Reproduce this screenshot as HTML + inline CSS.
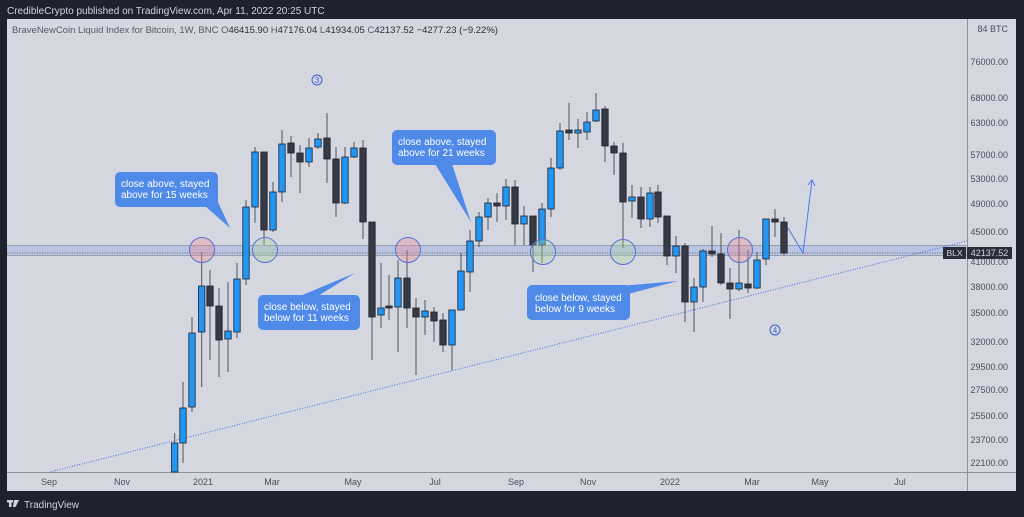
<!DOCTYPE html>
<html><head><meta charset="utf-8"><style>
html,body{margin:0;padding:0;background:#1e222d;width:1024px;height:517px;overflow:hidden}
svg{display:block}
text{font-family:"Liberation Sans","DejaVu Sans",sans-serif}
</style></head><body>
<svg id="s" width="1024" height="517" xmlns="http://www.w3.org/2000/svg">
<rect width="1024" height="517" fill="#1e222d"/>
<text x="7" y="14" font-size="10" fill="#d1d4dc">CredibleCrypto published on TradingView.com, Apr 11, 2022 20:25 UTC</text>
<rect x="7" y="19" width="1009" height="472" fill="#d4d7df"/>
<line x1="967.5" y1="19" x2="967.5" y2="491" stroke="#8f929b" stroke-width="1"/>
<line x1="7" y1="472.5" x2="1016" y2="472.5" stroke="#8f929b" stroke-width="1"/>
<text x="12" y="33" font-size="9.5" fill="#555a66">BraveNewCoin Liquid Index for Bitcoin, 1W, BNC <tspan fill="#555a66">O</tspan><tspan fill="#2a2e39">46415.90</tspan> <tspan>H</tspan><tspan fill="#2a2e39">47176.04</tspan> <tspan>L</tspan><tspan fill="#2a2e39">41934.05</tspan> <tspan>C</tspan><tspan fill="#2a2e39">42137.52</tspan> <tspan fill="#2a2e39">−4277.23 (−9.22%)</tspan></text>
<g id="band">
<rect x="7" y="245" width="960" height="11" fill="#b9c3e2"/>
<line x1="7" y1="245.5" x2="967" y2="245.5" stroke="#9a9ea8"/>
<line x1="7" y1="255.5" x2="967" y2="255.5" stroke="#9a9ea8"/>
<line x1="7" y1="253" x2="967" y2="253" stroke="#50535e" stroke-dasharray="1,1.5" stroke-width="0.8"/>
</g>
<line x1="50" y1="472" x2="967" y2="241" stroke="#4a70e0" stroke-dasharray="1,1.5" stroke-width="1"/>
<g id="c"></g>
<g fill-opacity="0.35" stroke="#5a6fd8" stroke-width="1">
<circle cx="202" cy="250" r="12.5" fill="#f08a96"/>
<circle cx="265" cy="250" r="12.5" fill="#a8d8a0"/>
<circle cx="408" cy="250" r="12.5" fill="#f08a96"/>
<circle cx="543" cy="252" r="12.5" fill="#a8d8a0"/>
<circle cx="623" cy="252" r="12.5" fill="#a8d8a0"/>
<circle cx="740" cy="250" r="12.5" fill="#f08a96"/>
</g>
<polyline points="788,228 803,253 812,180" fill="none" stroke="#4a78e8" stroke-width="1"/>
<polyline points="808,185 812,180 815,186" fill="none" stroke="#4a78e8" stroke-width="1"/>
<g fill="#4f8ae8">
<rect x="115" y="172" width="103" height="35" rx="5"/><polygon points="205,206 217,200 230,228"/>
<rect x="258" y="295" width="102" height="35" rx="5"/><polygon points="300,296 318,296 355,273"/>
<rect x="392" y="130" width="104" height="35" rx="5"/><polygon points="435,164 452,164 471,222"/>
<rect x="527" y="285" width="103" height="35" rx="5"/><polygon points="620,286 620,296 678,281"/>
</g>
<g fill="#fff" font-size="10">
<text x="121" y="187">close above, stayed</text><text x="121" y="198">above for 15 weeks</text>
<text x="264" y="310">close below, stayed</text><text x="264" y="321">below for 11 weeks</text>
<text x="398" y="145">close above, stayed</text><text x="398" y="156">above for 21 weeks</text>
<text x="535" y="301">close below, stayed</text><text x="535" y="312">below for 9 weeks</text>
</g>
<g fill="none" stroke="#3a5fcc"><circle cx="317" cy="80" r="5"/><circle cx="775" cy="330" r="5"/></g>
<g font-size="8" fill="#3a5fcc" text-anchor="middle"><text x="317" y="83">3</text><text x="775" y="333">4</text></g>
<g font-size="9" fill="#4a4e5a" text-anchor="end" id="pa">
<text x="1008" y="32">84 BTC</text>
</g>
<rect x="943" y="247" width="23" height="12" fill="#2a2e39"/>
<text x="954.5" y="256" font-size="8.5" fill="#d1d4dc" text-anchor="middle">BLX</text>
<rect x="967" y="247" width="45" height="12" fill="#2a2e39"/>
<text x="989.5" y="256" font-size="9" fill="#d1d4dc" text-anchor="middle">42137.52</text>
<g font-size="9" fill="#4a4e5a" text-anchor="middle">
<text x="49" y="485">Sep</text><text x="122" y="485">Nov</text><text x="203" y="485">2021</text><text x="272" y="485">Mar</text>
<text x="353" y="485">May</text><text x="435" y="485">Jul</text><text x="516" y="485">Sep</text><text x="588" y="485">Nov</text>
<text x="670" y="485">2022</text><text x="752" y="485">Mar</text><text x="820" y="485">May</text><text x="900" y="485">Jul</text>
</g>
<g fill="#d1d4dc"><rect x="7" y="500" width="6" height="2.5"/><rect x="9" y="500" width="2.5" height="7"/><polygon points="14,500 19,500 15.5,507 13,507"/></g>
<text x="24" y="508" font-size="10" fill="#d1d4dc">TradingView</text>
</svg>
<script>
var ticks=[[76000,62],[68000,98],[63000,123],[57000,155],[53000,179],[49000,204],[45000,232],[41000,262],[38000,287],[35000,313],[32000,342],[29500,367],[27500,390],[25500,416],[23700,440],[22100,463]];
var pa=document.getElementById('pa');
ticks.forEach(function(t){var e=document.createElementNS('http://www.w3.org/2000/svg','text');e.setAttribute('x','1008');e.setAttribute('y',t[1]+3);e.textContent=t[0].toFixed(2);pa.appendChild(e);});
var C=[[174.7,443,472,433,472,1],[183,408,443,382,463,1],[192,333,407,317,412,1],[201.7,286,332,252,387,1],[210,286,306,270,360,0],[219,306,340,288,377,0],[228,331,339,282,372,1],[237,279,332,263,338,1],[246,207,279,200,285,1],[255,152,207,147,223,1],[264,152,230,152,245,0],[273,192,230,182,232,1],[282,144,192,130,202,1],[291,143,153,136,177,0],[300,153,162,145,193,0],[309,148,162,138,167,1],[318,139,147,133,149,1],[327,138,159,113,183,0],[336,159,203,147,217,0],[345,157,203,147,204,1],[354,148,157,142,158,1],[363,148,222,140,239,0],[372,222,317,222,360,0],[381,308,315,263,328,1],[389,306,308,275,320,0],[398,278,307,260,352,1],[407,278,308,250,328,0],[416,308,317,298,375,0],[425,311,317,300,335,1],[434,312,321,307,342,0],[443,320,345,313,352,0],[452,310,345,310,370,1],[461,271,310,253,310,1],[470,241,272,230,292,1],[479,217,241,212,247,1],[488,203,217,198,230,1],[497,203,206,193,222,0],[506,187,206,179,220,1],[515,187,224,180,245,0],[524,216,224,206,245,1],[533,216,245,216,272,0],[542,209,245,203,263,1],[551,168,209,158,217,1],[560,131,168,123,170,1],[569,130,133,103,140,0],[578,130,133,119,148,1],[587,122,132,112,140,1],[596,110,121,93,122,1],[605,109,146,106,162,0],[614,146,153,142,175,0],[623,153,202,143,248,0],[632,197,201,185,218,1],[641,197,219,187,228,0],[650,193,219,187,227,1],[658,192,217,185,223,0],[667,216,256,216,265,0],[676,246,256,236,273,1],[685,246,302,243,322,0],[694,287,302,278,332,1],[703,251,287,249,302,1],[712,251,254,226,257,0],[721,254,283,233,285,0],[730,283,289,268,319,0],[739,283,289,230,291,1],[748,284,288,250,293,0],[757,260,288,252,289,1],[766,219,259,219,265,1],[775,219,222,209,237,0],[784,222,253,217,255,0]];
var g=document.getElementById('c'),h='';
C.forEach(function(c){var x=c[0],w=6.4;
h+='<line x1="'+x+'" y1="'+c[3]+'" x2="'+x+'" y2="'+c[4]+'" stroke="#50535e" stroke-width="1"/>';
var bh=Math.max(c[2]-c[1],1.5);
h+='<rect x="'+(x-w/2)+'" y="'+c[1]+'" width="'+w+'" height="'+bh+'" fill="'+(c[5]?'#2196f3':'#363a45')+'" stroke="#1e222d" stroke-width="0.8"/>';});
g.innerHTML=h;
</script>
</body></html>
